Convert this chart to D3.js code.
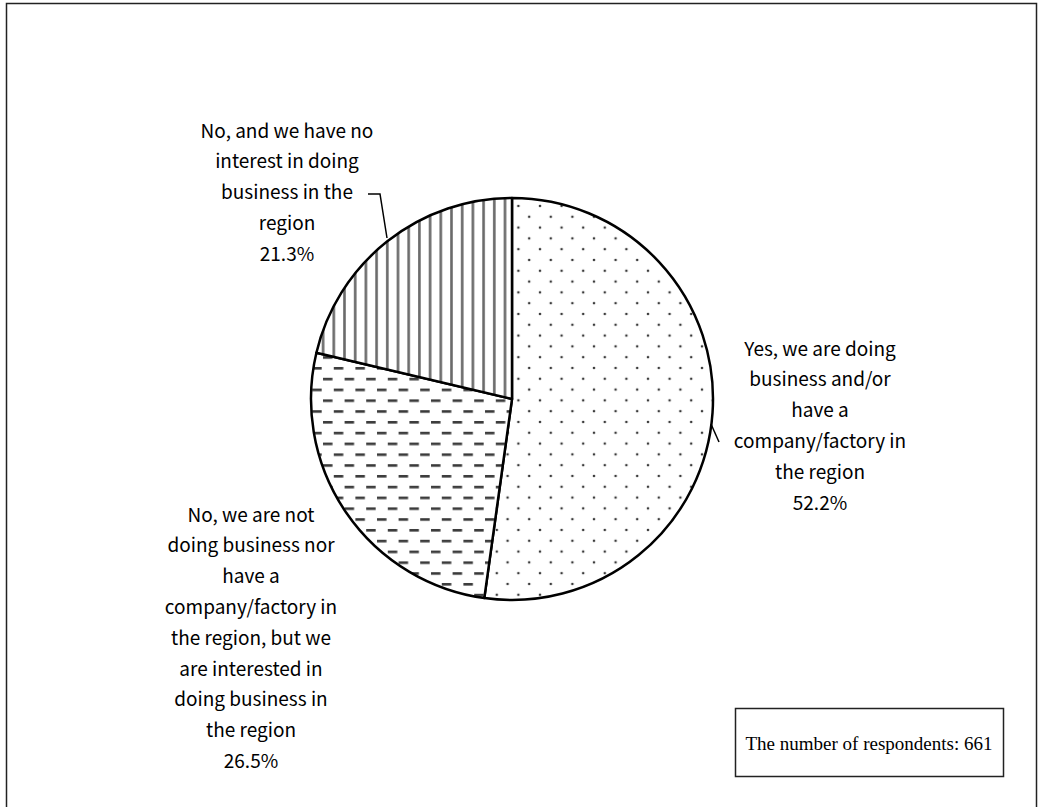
<!DOCTYPE html>
<html>
<head>
<meta charset="utf-8">
<script src="https://cdn.jsdelivr.net/npm/d3@7"></script>
<style>
  html, body { margin: 0; padding: 0; background: #fff; }
  svg { display: block; }
</style>
</head>
<body>
<svg id="chart" width="1039" height="807"></svg>
<script>
// Survey answers, clockwise from 12 o'clock
const categories = [
  "Yes, we are doing business and/or have a company/factory in the region",
  "No, we are not doing business nor have a company/factory in the region, but we are interested in doing business in the region",
  "No, and we have no interest in doing business in the region"
];
const shares = [52.2, 26.5, 21.3];
const patternIds = ["dots", "dashes", "vlines"];
const labelLines = [
  ["Yes, we are doing", "business and/or", "have a", "company/factory in", "the region", "52.2%"],
  ["No, we are not", "doing business nor", "have a", "company/factory in", "the region, but we", "are interested in", "doing business in", "the region", "26.5%"],
  ["No, and we have no", "interest in doing", "business in the", "region", "21.3%"]
];
const respondents = 661;

const svg = d3.select("#chart");
const cx = 512, cy = 399, R = 201;

// Outer frame
svg.append("rect")
  .attr("x", 6.5).attr("y", 3.5)
  .attr("width", 1030).attr("height", 812)
  .attr("fill", "none").attr("stroke", "#222").attr("stroke-width", 1.5);

// Fill patterns
const defs = svg.append("defs");
const pDots = defs.append("pattern").attr("id", "dots")
  .attr("patternUnits", "userSpaceOnUse").attr("width", 21.6).attr("height", 21.6)
  .attr("x", cx).attr("y", cy);
pDots.append("rect").attr("width", 21.6).attr("height", 21.6).attr("fill", "#fff");
pDots.append("circle").attr("cx", 2).attr("cy", 2).attr("r", 1.3).attr("fill", "#3a3a3a");
pDots.append("circle").attr("cx", 12.8).attr("cy", 12.8).attr("r", 1.3).attr("fill", "#3a3a3a");

const pDash = defs.append("pattern").attr("id", "dashes")
  .attr("patternUnits", "userSpaceOnUse").attr("width", 21.6).attr("height", 21.6)
  .attr("x", cx).attr("y", cy);
pDash.append("rect").attr("width", 21.6).attr("height", 21.6).attr("fill", "#fff");
pDash.append("rect").attr("x", 1).attr("y", 1).attr("width", 9.5).attr("height", 2.6).attr("fill", "#3a3a3a");
pDash.append("rect").attr("x", 11.8).attr("y", 11.8).attr("width", 9.5).attr("height", 2.6).attr("fill", "#3a3a3a");

const pV = defs.append("pattern").attr("id", "vlines")
  .attr("patternUnits", "userSpaceOnUse").attr("width", 10.7).attr("height", 10)
  .attr("x", cx).attr("y", 0);
pV.append("rect").attr("width", 10.7).attr("height", 10).attr("fill", "#fff");
pV.append("rect").attr("x", 4).attr("y", 0).attr("width", 2.6).attr("height", 10).attr("fill", "#6a6a6a");

// Pie
const pie = d3.pie().sort(null).value(d => d).startAngle(0).endAngle(2 * Math.PI);
const arc = d3.arc().innerRadius(0).outerRadius(R);
const arcs = pie(shares);

const g = svg.append("g").attr("transform", `translate(${cx},${cy})`);
g.selectAll("path.slice")
  .data(arcs)
  .join("path")
  .attr("class", "slice")
  .attr("d", arc)
  .attr("fill", (d, i) => `url(#${patternIds[i]})`)
  .attr("stroke", "#000")
  .attr("stroke-width", 2.5)
  .attr("stroke-linejoin", "round");

// Leader lines
const leader = d3.line();
svg.append("path")
  .attr("d", leader([[368, 194], [380, 194], [387, 238]]))
  .attr("fill", "none").attr("stroke", "#000").attr("stroke-width", 1.5);
svg.append("path")
  .attr("d", leader([[711, 424], [719, 442]]))
  .attr("fill", "none").attr("stroke", "#000").attr("stroke-width", 1.5);

// Slice labels
const labelFont = "'Noto Sans CJK JP', 'DejaVu Sans', sans-serif";
const labelPos = [
  { x: 820, y: 347 },
  { x: 251, y: 513 },
  { x: 287, y: 129 }
];
const lineH = 30.8;
labelLines.forEach((lines, i) => {
  const t = svg.append("text")
    .attr("text-anchor", "middle")
    .attr("font-family", labelFont)
    .attr("font-size", 19)
    .attr("fill", "#000");
  lines.forEach((s, k) => {
    t.append("tspan")
      .attr("x", labelPos[i].x)
      .attr("y", labelPos[i].y + k * lineH)
      .attr("dominant-baseline", "central")
      .text(s);
  });
});

// Respondent count box
svg.append("rect")
  .attr("x", 735.5).attr("y", 708.5)
  .attr("width", 268).attr("height", 68)
  .attr("fill", "#fff").attr("stroke", "#222").attr("stroke-width", 1.5);
svg.append("text")
  .attr("x", 869).attr("y", 743)
  .attr("text-anchor", "middle")
  .attr("dominant-baseline", "central")
  .attr("font-family", "'Liberation Serif', 'Times New Roman', serif")
  .attr("font-size", 19)
  .attr("fill", "#000")
  .text(`The number of respondents: ${respondents}`);
</script>
</body>
</html>
